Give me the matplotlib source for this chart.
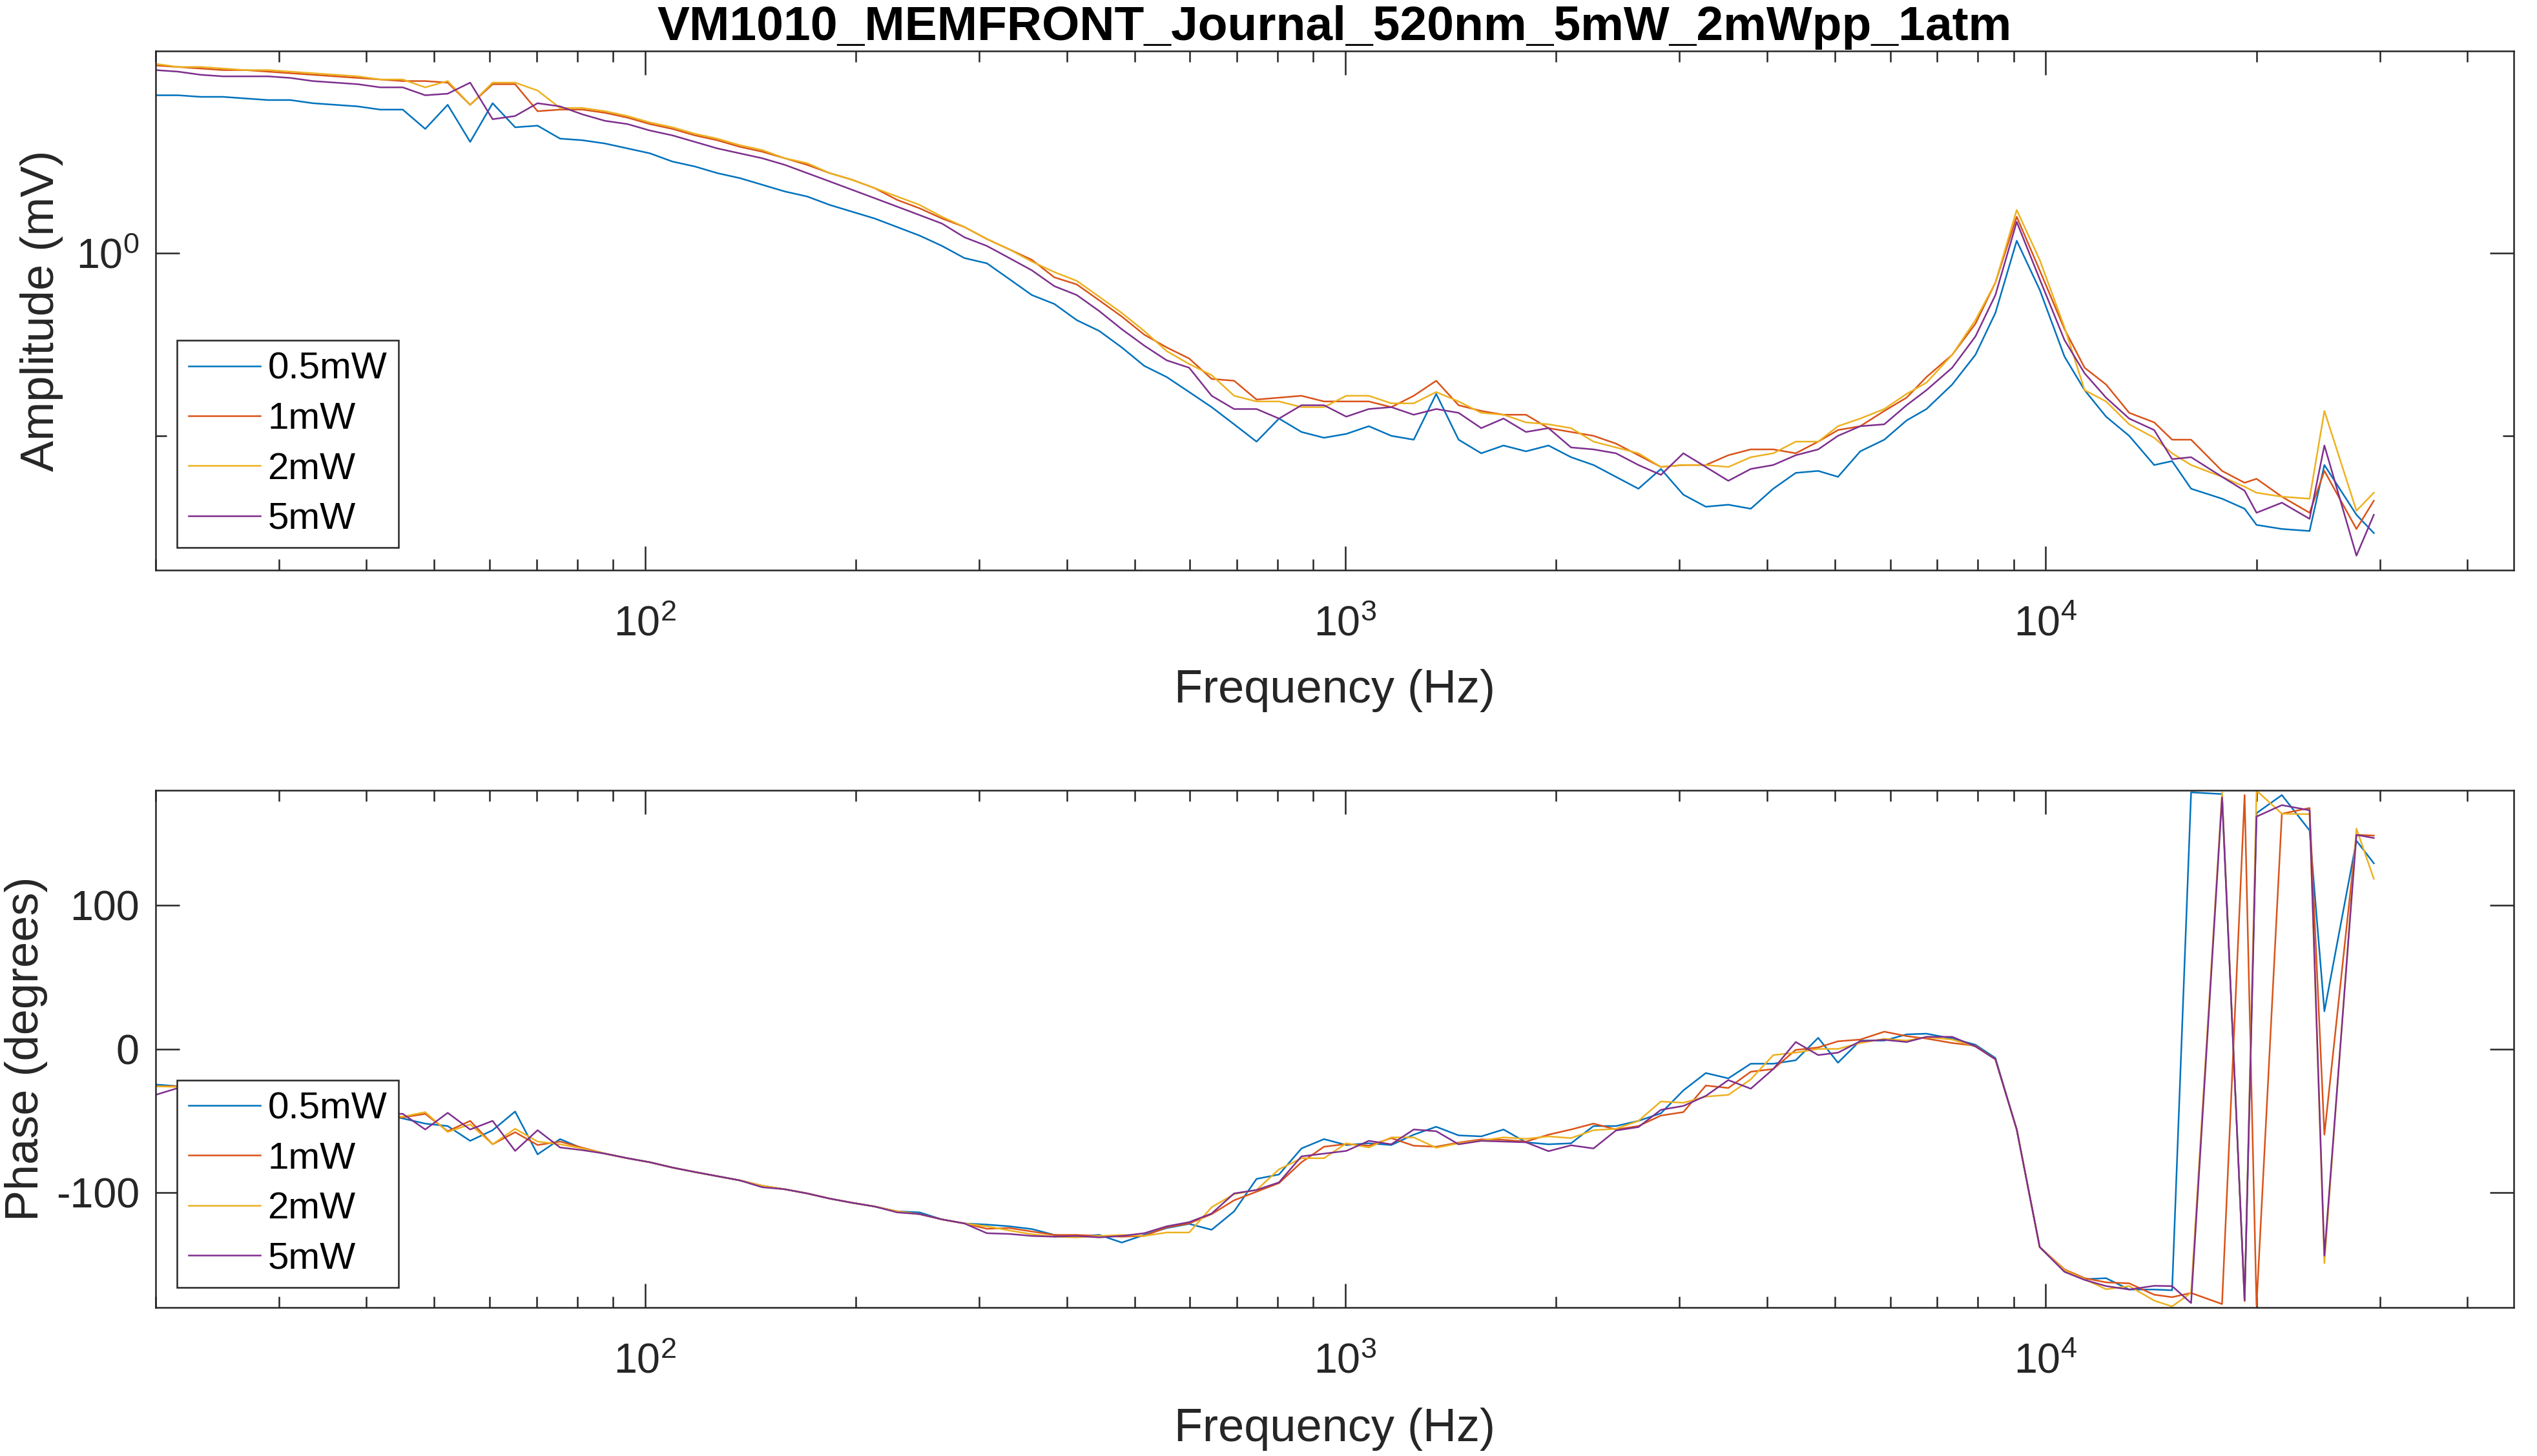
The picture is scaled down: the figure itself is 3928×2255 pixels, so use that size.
import matplotlib
matplotlib.use('Agg')
import matplotlib.pyplot as plt
from matplotlib.ticker import FixedLocator, FixedFormatter, NullFormatter

# measured frequencies (Hz), same for every run
freq_hz = [
    20.0, 21.54, 23.19, 24.97, 26.88, 28.94, 31.15, 33.54, 36.12, 38.89,
    41.87, 45.08, 48.54, 52.26, 56.27, 60.58, 65.23, 70.23, 75.62, 81.42,
    87.66, 94.38, 101.6, 109.4, 117.8, 126.8, 136.5, 147.0, 158.3, 170.4,
    183.5, 197.5, 212.7, 229.0, 246.6, 265.5, 285.8, 307.7, 331.3, 356.7,
    384.1, 413.5, 445.3, 479.4, 516.1, 555.7, 598.3, 644.2, 693.6, 746.7,
    804.0, 865.6, 932.0, 1003, 1080, 1163, 1252, 1348, 1451, 1563,
    1682, 1811, 1950, 2100, 2261, 2434, 2621, 2822, 3038, 3271,
    3522, 3792, 4083, 4396, 4733, 5051, 5435, 5882, 6329, 6757,
    7353, 7937, 8475, 9091, 9804, 10638, 11364, 12195, 13158, 14286,
    15152, 16129, 17857, 19231, 20000, 21739, 23810, 25000, 27778, 29412]

labels = ['0.5mW', '1mW', '2mW', '5mW']

# amplitude (mV)
amp_05mw = [
    1.095, 1.095, 1.094, 1.094, 1.093, 1.092, 1.092, 1.090, 1.089, 1.088,
    1.086, 1.086, 1.074, 1.089, 1.066, 1.090, 1.075, 1.076, 1.068, 1.067,
    1.065, 1.062, 1.059, 1.054, 1.051, 1.047, 1.044, 1.040, 1.036, 1.033,
    1.028, 1.024, 1.020, 1.015, 1.010, 1.004, 0.997, 0.994, 0.985, 0.976,
    0.971, 0.962, 0.956, 0.947, 0.937, 0.931, 0.923, 0.915, 0.906, 0.897,
    0.909, 0.902, 0.899, 0.901, 0.905, 0.900, 0.898, 0.922, 0.898, 0.891,
    0.895, 0.892, 0.895, 0.889, 0.885, 0.879, 0.873, 0.883, 0.870, 0.864,
    0.865, 0.863, 0.873, 0.881, 0.882, 0.879, 0.892, 0.898, 0.908, 0.914,
    0.927, 0.943, 0.966, 1.007, 0.979, 0.942, 0.924, 0.910, 0.900, 0.885,
    0.887, 0.873, 0.868, 0.863, 0.855, 0.853, 0.852, 0.885, 0.860, 0.851]
amp_1mw = [
    1.114, 1.113, 1.112, 1.111, 1.111, 1.110, 1.109, 1.108, 1.107, 1.106,
    1.105, 1.104, 1.104, 1.103, 1.089, 1.102, 1.102, 1.085, 1.086, 1.086,
    1.084, 1.081, 1.077, 1.074, 1.070, 1.067, 1.063, 1.060, 1.056, 1.052,
    1.047, 1.043, 1.038, 1.031, 1.026, 1.020, 1.015, 1.008, 1.002, 0.996,
    0.986, 0.982, 0.973, 0.964, 0.954, 0.947, 0.941, 0.930, 0.929, 0.919,
    0.920, 0.921, 0.918, 0.918, 0.918, 0.915, 0.921, 0.929, 0.916, 0.913,
    0.911, 0.911, 0.904, 0.902, 0.900, 0.896, 0.890, 0.884, 0.885, 0.885,
    0.890, 0.893, 0.893, 0.891, 0.897, 0.903, 0.905, 0.913, 0.920, 0.931,
    0.943, 0.960, 0.983, 1.021, 0.990, 0.957, 0.936, 0.927, 0.912, 0.907,
    0.898, 0.898, 0.882, 0.876, 0.878, 0.869, 0.861, 0.882, 0.853, 0.867]
amp_2mw = [
    1.115, 1.113, 1.113, 1.112, 1.111, 1.111, 1.110, 1.109, 1.108, 1.107,
    1.105, 1.105, 1.100, 1.104, 1.089, 1.103, 1.103, 1.098, 1.087, 1.087,
    1.085, 1.082, 1.078, 1.075, 1.071, 1.068, 1.064, 1.061, 1.056, 1.053,
    1.047, 1.043, 1.038, 1.033, 1.028, 1.021, 1.015, 1.008, 1.002, 0.995,
    0.989, 0.984, 0.975, 0.966, 0.956, 0.945, 0.938, 0.932, 0.921, 0.918,
    0.918, 0.915, 0.915, 0.921, 0.921, 0.917, 0.917, 0.923, 0.918, 0.912,
    0.911, 0.907, 0.906, 0.904, 0.897, 0.894, 0.891, 0.884, 0.885, 0.885,
    0.884, 0.889, 0.891, 0.897, 0.897, 0.905, 0.909, 0.914, 0.922, 0.928,
    0.943, 0.962, 0.983, 1.025, 0.996, 0.958, 0.924, 0.918, 0.906, 0.899,
    0.891, 0.885, 0.879, 0.874, 0.871, 0.869, 0.868, 0.913, 0.862, 0.871]
amp_5mw = [
    1.111, 1.110, 1.108, 1.107, 1.107, 1.107, 1.106, 1.104, 1.103, 1.102,
    1.100, 1.100, 1.095, 1.096, 1.103, 1.080, 1.082, 1.090, 1.088, 1.083,
    1.079, 1.077, 1.073, 1.070, 1.066, 1.062, 1.059, 1.056, 1.052, 1.047,
    1.042, 1.037, 1.032, 1.027, 1.022, 1.017, 1.009, 1.004, 0.997, 0.990,
    0.981, 0.976, 0.967, 0.957, 0.948, 0.940, 0.936, 0.921, 0.914, 0.914,
    0.909, 0.916, 0.916, 0.910, 0.914, 0.915, 0.911, 0.914, 0.912, 0.904,
    0.909, 0.902, 0.904, 0.894, 0.893, 0.891, 0.885, 0.880, 0.891, 0.884,
    0.877, 0.883, 0.885, 0.890, 0.893, 0.900, 0.905, 0.906, 0.916, 0.924,
    0.936, 0.953, 0.976, 1.018, 0.985, 0.951, 0.933, 0.920, 0.909, 0.903,
    0.888, 0.889, 0.879, 0.872, 0.861, 0.866, 0.858, 0.895, 0.840, 0.860]

# phase (degrees)
ph_05mw = [
    -24.8, -26.0, -28.0, -30.0, -33.0, -35.0, -37.0, -40.0, -42.0, -44.0,
    -45.0, -48.4, -52.0, -53.7, -64.0, -56.6, -43.6, -73.4, -62.8, -69.3,
    -72.9, -76.1, -78.9, -82.6, -85.7, -88.6, -91.5, -95.3, -97.7, -100.6,
    -104.2, -107.1, -109.7, -113.1, -113.8, -118.7, -121.5, -122.3, -123.5, -125.4,
    -129.5, -130.7, -129.5, -134.8, -129.5, -124.7, -121.8, -125.9, -113.1, -90.5,
    -87.4, -69.3, -62.8, -66.9, -65.7, -66.9, -59.7, -54.2, -60.2, -60.9,
    -56.1, -65.0, -66.4, -65.7, -53.7, -53.7, -50.1, -44.8, -28.9, -16.8,
    -20.5, -10.3, -10.3, -7.9, 7.7, -9.6, 5.8, 5.8, 10.1, 10.6,
    7.2, 2.9, -6.3, -56.1, -137.9, -154.8, -160.3, -159.6, -167.5, -167.5,
    -168.0, 178.6, 177.4, -175.0, 164.1, 176.7, 152.1, 26.2, 144.9, 129.2]
ph_1mw = [
    -26.0, -26.0, -28.0, -31.0, -33.0, -35.0, -38.0, -40.0, -42.0, -44.0,
    -46.0, -47.7, -45.2, -57.3, -50.1, -66.4, -58.0, -66.9, -64.5, -68.8,
    -72.9, -76.1, -78.9, -82.6, -85.7, -88.6, -91.5, -95.3, -97.7, -100.6,
    -104.2, -107.1, -109.7, -113.1, -115.0, -118.7, -121.5, -125.2, -124.7, -127.1,
    -129.5, -129.5, -130.2, -130.7, -130.2, -124.2, -121.5, -115.0, -105.4, -99.4,
    -93.4, -78.9, -68.1, -66.2, -67.4, -62.1, -67.4, -68.1, -65.2, -63.0,
    -63.3, -64.5, -59.7, -56.1, -52.0, -56.1, -53.7, -46.4, -44.0, -25.5,
    -27.2, -15.9, -14.0, -0.7, 1.0, 5.3, 6.5, 12.0, 8.9, 7.2,
    4.1, 2.2, -7.2, -56.1, -137.9, -153.5, -159.6, -162.5, -163.2, -171.1,
    -172.8, -169.9, -177.6, 176.7, -178.8, 163.7, 167.7, -59.7, 149.0, 148.5]
ph_2mw = [
    -26.0, -26.5, -28.0, -30.0, -33.0, -36.0, -38.0, -40.0, -43.0, -44.0,
    -46.0, -47.2, -44.0, -57.8, -52.5, -66.4, -55.6, -64.5, -66.4, -69.3,
    -72.9, -76.1, -78.9, -82.6, -85.7, -88.6, -91.5, -95.3, -97.7, -100.6,
    -104.2, -107.1, -109.7, -113.1, -115.0, -118.7, -121.5, -123.5, -126.4, -129.0,
    -130.7, -131.2, -130.2, -129.5, -130.2, -127.8, -127.8, -110.2, -101.1, -98.2,
    -83.8, -76.1, -76.1, -65.7, -68.6, -61.6, -61.6, -68.8, -65.7, -63.8,
    -61.6, -62.6, -60.9, -62.1, -56.6, -55.6, -50.1, -36.6, -37.5, -33.2,
    -32.0, -21.2, -4.3, -2.6, 0.0, 0.0, 4.1, 7.0, 5.8, 8.2,
    6.5, 1.7, -7.2, -56.1, -137.9, -154.0, -160.3, -167.3, -165.1, -175.2,
    -179.3, -169.7, 178.6, -175.7, 179.8, 163.7, 163.4, -149.2, 153.3, 118.4]
ph_5mw = [
    -32.0, -27.2, -29.0, -31.0, -34.0, -36.0, -38.0, -41.0, -43.0, -44.0,
    -45.0, -45.2, -56.1, -44.5, -56.1, -50.1, -71.0, -56.6, -68.6, -70.5,
    -72.9, -76.1, -78.9, -82.6, -85.7, -88.6, -91.5, -96.3, -97.7, -100.6,
    -104.2, -107.1, -109.7, -113.8, -115.0, -118.7, -121.5, -128.3, -128.8, -130.2,
    -130.7, -130.2, -131.2, -130.2, -128.3, -123.5, -120.6, -114.6, -100.6, -98.2,
    -92.9, -74.8, -72.9, -71.0, -64.0, -66.4, -56.1, -57.3, -66.4, -64.0,
    -64.5, -65.0, -71.2, -67.1, -69.3, -56.8, -54.4, -42.4, -39.7, -32.7,
    -21.7, -27.7, -14.0, 4.8, -4.3, -2.6, 5.3, 6.3, 4.8, 8.4,
    8.4, 1.7, -7.2, -56.1, -137.9, -155.2, -160.8, -165.1, -167.5, -164.9,
    -165.1, -176.9, 175.0, -175.2, 161.7, 169.7, 166.1, -143.9, 149.0, 146.8]

plt.rcParams['font.family'] = ['Liberation Sans', 'DejaVu Sans']
plt.rcParams['mathtext.fontset'] = 'custom'
plt.rcParams['mathtext.rm'] = 'Liberation Sans'
plt.rcParams['mathtext.it'] = 'Liberation Sans:italic'
plt.rcParams['mathtext.bf'] = 'Liberation Sans:bold'
plt.rcParams['axes.unicode_minus'] = False

colors = ['#0072BD', '#D95319', '#EDB120', '#7E2F8E']
axcol = '#262626'

fig = plt.figure(figsize=(3929 / 300, 2255 / 300), dpi=300)
ax1 = fig.add_axes([0.0613, 0.6084, 0.9293, 0.3566])
ax2 = fig.add_axes([0.0613, 0.1020, 0.9293, 0.3552])

for y, c, l in zip([amp_05mw, amp_1mw, amp_2mw, amp_5mw], colors, labels):
    ax1.plot(freq_hz, y, color=c, lw=0.6, label=l)
for y, c, l in zip([ph_05mw, ph_1mw, ph_2mw, ph_5mw], colors, labels):
    ax2.plot(freq_hz, y, color=c, lw=0.6, label=l)

xminor = [m * 10 ** e for e in (1, 2, 3, 4) for m in range(2, 10)]

for ax in (ax1, ax2):
    ax.set_xscale('log')
    ax.set_xlim(20, 46600)
    ax.xaxis.set_major_locator(FixedLocator([100, 1000, 10000]))
    ax.xaxis.set_major_formatter(FixedFormatter(['$10^{2}$', '$10^{3}$', '$10^{4}$']))
    ax.xaxis.set_minor_locator(FixedLocator(xminor))
    ax.xaxis.set_minor_formatter(NullFormatter())
    ax.tick_params(which='both', direction='in', top=True, right=True,
                   color=axcol, width=0.6, labelcolor=axcol, labelsize=15.5)
    ax.tick_params(which='major', length=8.8)
    ax.tick_params(which='minor', length=4.0)
    ax.tick_params(axis='x', pad=13)
    ax.tick_params(axis='y', pad=6)
    for s in ax.spines.values():
        s.set_color(axcol)
        s.set_linewidth(0.6)
    ax.set_xlabel('Frequency (Hz)', fontsize=17.3, color=axcol)
    leg = ax.legend(loc='lower left', fontsize=14, frameon=True, fancybox=False,
                    edgecolor=axcol, framealpha=1, handlelength=1.9,
                    handletextpad=0.2, labelspacing=0.4, borderpad=0.3,
                    borderaxespad=0)
    leg.get_frame().set_linewidth(0.6)

ax1.legend_.set_bbox_to_anchor((0.0092, 0.043))
ax2.legend_.set_bbox_to_anchor((0.0092, 0.039))

ax1.set_yscale('log')
ax1.set_ylim(0.833, 1.1233)
ax1.yaxis.set_major_locator(FixedLocator([1.0]))
ax1.yaxis.set_major_formatter(FixedFormatter(['$10^{0}$']))
ax1.yaxis.set_minor_locator(FixedLocator([0.9]))
ax1.yaxis.set_minor_formatter(NullFormatter())
ax1.set_ylabel('Amplitude (mV)', fontsize=17.3, color=axcol)
ax1.yaxis.set_label_coords(-0.0392, 0.5)
ax1.xaxis.set_label_coords(0.5, -0.19)
ax1.set_title('VM1010_MEMFRONT_Journal_520nm_5mW_2mWpp_1atm',
              fontsize=18, fontweight='bold', pad=4)

ax2.set_ylim(-180, 180)
ax2.set_yticks([-100, 0, 100])
ax2.set_ylabel('Phase (degrees)', fontsize=17.3, color=axcol)
ax2.yaxis.set_label_coords(-0.0458, 0.5)
ax2.xaxis.set_label_coords(0.5, -0.194)

fig.savefig('out.png', dpi=300, facecolor='white')
